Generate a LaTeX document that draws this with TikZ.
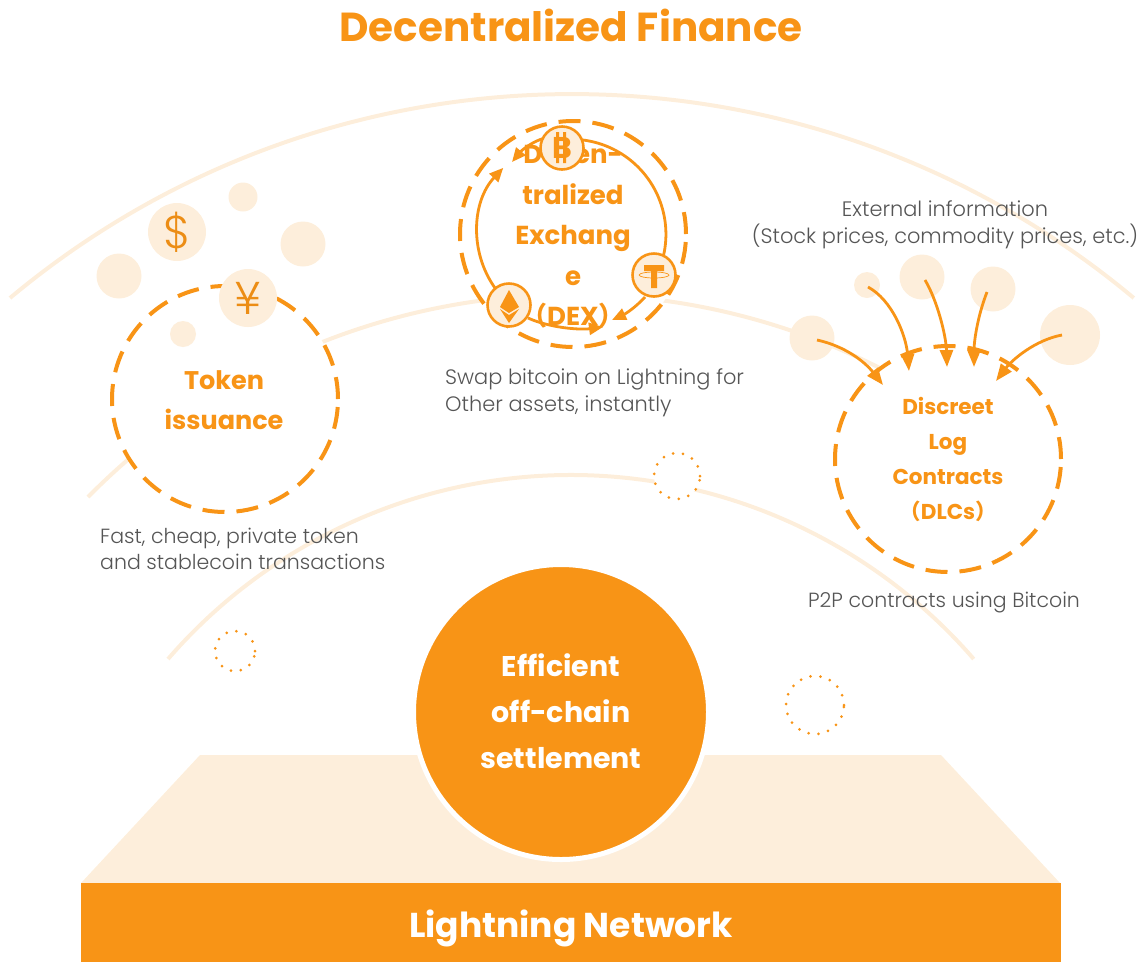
\documentclass[tikz,border=0pt]{standalone}
\usepackage{fontspec}
\setmainfont{Poppins}
\newfontfamily\thinfont{Poppins Light}
\newfontfamily\cjk{Noto Sans CJK SC}
\usetikzlibrary{arrows.meta}
\definecolor{btcorange}{HTML}{F89416}
\definecolor{palepeach}{HTML}{FDEEDB}
\definecolor{captiongray}{HTML}{555555}
\newcommand{\fsize}[2]{\fontsize{#1}{#2}\selectfont}
\newcommand{\fwparen}[1]{{\cjk\bfseries（}#1{\cjk\bfseries）}}
\tikzset{
    bigarc/.style={palepeach, line width=4pt},
    bubble/.style={circle, fill=palepeach, inner sep=0pt},
    dashring/.style={circle, draw=btcorange, fill=white, line width=4pt,
        dash pattern=on 22pt off 12pt, minimum size=226pt, inner sep=0pt},
    dotring/.style={circle, draw=btcorange, fill=white, line width=3pt, line cap=round,
        dash pattern=on 0pt off 10pt, inner sep=0pt},
    coin/.style={circle, draw=btcorange, fill=palepeach, line width=2.6pt,
        minimum size=43pt, inner sep=0pt},
    flow/.style={btcorange, line width=2.8pt,
        -{Triangle[length=17pt, width=13pt]}},
    ringflow/.style={btcorange, line width=2.8pt},
    ringhead/.style={ringflow, -{Triangle[length=14pt, width=12pt]}},
    headline/.style={text=btcorange, font=\bfseries\fsize{40.5}{46}},
    caption/.style={text=captiongray, align=left, inner sep=0pt,
        font=\thinfont\fsize{20.5}{25.5}},
    widecaption/.style={caption, font=\thinfont\fsize{20.9}{26.5}},
    ringlabel/.style={text=btcorange, align=center, font=\bfseries\fsize{25.5}{40}},
    signtext/.style={text=btcorange!95!black, font=\thinfont\fsize{46}{48}},
}
\begin{document}
\begin{tikzpicture}[x=1pt, y=-1pt]
    \useasboundingbox (0,0) rectangle (1147,962);
    \draw[bigarc] (10,298) arc[start angle=-129.9, delta angle=79.8, radius=876];
    \draw[bigarc] (88,497) arc[start angle=-135.4, delta angle=72.4, radius=680];
    \draw[bigarc] (168,659) arc[start angle=-139.1, delta angle=98.2, radius=533];

    \fill[palepeach] (200,755) -- (941,755) -- (1060,883) -- (81,883) -- cycle;
    \fill[btcorange] (81,883) rectangle (1061,962);
    \node[circle, fill=btcorange, draw=white, line width=5pt, minimum size=295pt,
        inner sep=0pt] (settle) at (561,712) {};
    \node[text=white, align=center, font=\bfseries\fsize{28.5}{46}] (settletext) at (561,711)
        {Efficient\\off-chain\\settlement};
    \node[text=white, font=\bfseries\fsize{34.5}{40}] (lightning) at (571,928) {Lightning Network};
    \node[headline] (title) at (571,25) {Decentralized Finance};

    \foreach \name/\x/\y/\d in {a/677/476/46, b/235/651/40, c/815/705/58}{
        \node[dotring, minimum size=\d pt] (dots\name) at (\x,\y) {};
    }

    \node[dashring] (token) at (225,399) {};
    \node[dashring] (dex) at (573,234) {};
    \node[dashring] (dlc) at (948,459) {};

    \foreach \name/\x/\y/\d in {dollar/177/232/58, ta/243/197/29, tb/303/244/45,
        tc/119/276/45, yen/248/298/58, td/183/334/26,
        ea/812/338/45, eb/867/285/26, ec/922/277/45, ed/993/289/45, ee/1070/335/60}{
        \node[bubble, minimum size=\d pt] (\name) at (\x,\y) {};
    }
    \node[signtext] (dollarsign) at (dollar) {\$};
    \node[signtext] (yensign) at (yen) {¥};

    \node[ringlabel] (tokentext) at (224,400) {Token\\issuance};
    \node[ringlabel, font=\bfseries\fsize{21.5}{35}] (dlctext) at (948,459)
        {Discreet\\Log\\Contracts\\\fwparen{DLCs}};
    \node[ringlabel, font=\bfseries\fsize{26}{40.5}] (dextext) at (573,237)
        {Decen-\\tralized\\Exchang\\e\\\fwparen{DEX}};

    \node[caption, anchor=west] (tokencap) at (100,549)
        {Fast, cheap, private token\\and stablecoin transactions};
    \node[widecaption, anchor=west] (dexcap) at (445,393)
        {Swap bitcoin on Lightning for\\Other assets, instantly};
    \node[widecaption, align=center] (extcap) at (945,225)
        {External information\\(Stock prices, commodity prices, etc.)};
    \node[caption] (dlccap) at (944,603) {P2P contracts using Bitcoin};

    \coordinate (tipa) at (883,385);
    \coordinate (tipb) at (909,371);
    \coordinate (tipc) at (947,367);
    \coordinate (tipd) at (974,367);
    \coordinate (tipe) at (996,381);
    \coordinate (taila) at (817,340);
    \coordinate (tailb) at (868,287);
    \coordinate (tailc) at (925,280);
    \coordinate (taild) at (987,292);
    \coordinate (taile) at (1062,335);
    \draw[flow] (taila) .. controls (845,346) and (865,362) .. (tipa);
    \draw[flow] (tailb) .. controls (892,300) and (906,335) .. (tipb);
    \draw[flow] (tailc) .. controls (937,300) and (946,335) .. (tipc);
    \draw[flow] (taild) .. controls (978,315) and (974,340) .. (tipd);
    \draw[flow] (taile) .. controls (1035,340) and (1012,360) .. (tipe);

    \coordinate (ringa) at (495,288);
    \coordinate (ringc) at (583,140);
    \coordinate (ringe) at (545,138);
    \coordinate (ringf) at (512,162);
    \coordinate (ringg) at (645,297);
    \coordinate (ringh) at (612,320);
    \coordinate (ringi) at (528,318);
    \coordinate (ringj) at (603,327);
    \draw[ringhead] (ringa) arc[start angle=144.6, delta angle=78.7, radius=95];
    \draw[ringflow] (ringc) arc[start angle=-82.7, delta angle=95.3, radius=95];
    \draw[ringhead] (ringe) .. controls (533,141) and (522,150) .. (ringf);
    \draw[ringhead] (ringg) .. controls (635,308) and (625,314) .. (ringh);
    \draw[ringhead] (ringi) .. controls (550,328) and (580,330) .. (ringj);

    \node[coin] (btc) at (562,148) {};
    \node[coin] (usdt) at (654,275) {};
    \node[coin] (eth) at (509,305) {};
    \node[text=btcorange, font=\bfseries\fsize{30}{32}] (btcsign) at (btc) {B};
    \fill[btcorange] (556,132) rectangle (559,163) (563,132) rectangle (566,163);
    \fill[btcorange] (644,265) rectangle (664,271) (651,265) rectangle (657,288);
    \draw[btcorange, line width=0.7pt] (654,275) ellipse (15 and 3);
    \fill[btcorange] (509,290) -- (500,307) -- (509,313) -- (519,307) -- cycle;
    \fill[btcorange] (500,309) -- (509,315) -- (519,309) -- (509,323) -- cycle;
\end{tikzpicture}
\end{document}
